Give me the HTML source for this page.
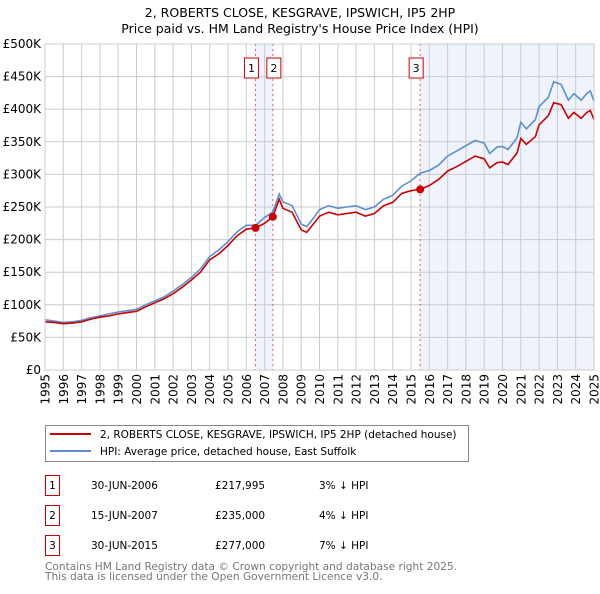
<!DOCTYPE html>
<html><head><meta charset="utf-8"><style>
body{margin:0;background:#fff;font-family:"DejaVu Sans","Liberation Sans",sans-serif;}
svg text{font-family:"DejaVu Sans","Liberation Sans",sans-serif;}
</style></head><body>
<svg id="c" width="600" height="590" xmlns="http://www.w3.org/2000/svg">
<text x="300" y="17" text-anchor="middle" font-size="12.5">2, ROBERTS CLOSE, KESGRAVE, IPSWICH, IP5 2HP</text>
<text x="300" y="33" text-anchor="middle" font-size="12.5">Price paid vs. HM Land Registry's House Price Index (HPI)</text>
<g id="grid"></g><g id="series"></g><g id="axes"></g>
<g>
<rect x="45.5" y="425.5" width="423" height="36" fill="#fff" stroke="#888"/>
<line x1="50" y1="434" x2="91" y2="434" stroke="#cc0000" stroke-width="2"/>
<text x="100" y="438" font-size="10.5">2, ROBERTS CLOSE, KESGRAVE, IPSWICH, IP5 2HP (detached house)</text>
<line x1="50" y1="451" x2="91" y2="451" stroke="#5b8fd0" stroke-width="2"/>
<text x="100" y="455" font-size="10.5">HPI: Average price, detached house, East Suffolk</text>
</g>
<g font-size="10.5">
<rect x="45.5" y="475.5" width="14" height="20" fill="none" stroke="#cc0000"/><text x="52.5" y="489" text-anchor="middle">1</text>
<text x="91" y="489">30-JUN-2006</text><text x="215" y="489">£217,995</text><text x="319" y="489">3% ↓ HPI</text>
<rect x="45.5" y="505.5" width="14" height="20" fill="none" stroke="#cc0000"/><text x="52.5" y="519" text-anchor="middle">2</text>
<text x="91" y="519">15-JUN-2007</text><text x="215" y="519">£235,000</text><text x="319" y="519">4% ↓ HPI</text>
<rect x="45.5" y="535.5" width="14" height="20" fill="none" stroke="#cc0000"/><text x="52.5" y="549" text-anchor="middle">3</text>
<text x="91" y="549">30-JUN-2015</text><text x="215" y="549">£277,000</text><text x="319" y="549">7% ↓ HPI</text>
</g>
<text x="45" y="570" font-size="10.6" fill="#777">Contains HM Land Registry data © Crown copyright and database right 2025.</text>
<text x="45" y="580" font-size="10.6" fill="#777">This data is licensed under the Open Government Licence v3.0.</text>
</svg>
<script>
const hpiYears=[1995,1995.5,1996,1996.5,1997,1997.5,1998,1998.5,1999,1999.5,2000,2000.5,2001,2001.5,2002,2002.5,2003,2003.5,2004,2004.5,2005,2005.5,2006,2006.5,2007,2007.45,2007.8,2008,2008.5,2009,2009.3,2009.7,2010,2010.5,2011,2011.5,2012,2012.5,2013,2013.5,2014,2014.5,2015,2015.5,2016,2016.5,2017,2017.5,2018,2018.5,2019,2019.3,2019.7,2020,2020.3,2020.8,2021,2021.3,2021.8,2022,2022.5,2022.8,2023.2,2023.6,2023.9,2024.3,2024.6,2024.8,2025];
const hpiValues=[77,75,73,74,76,80,83,86,89,91,93,100,106,112,121,131,142,155,174,184,197,212,222,222,234,242,270,258,252,224,220,234,246,252,248,250,252,246,250,262,268,282,290,302,306,314,328,336,344,352,348,332,342,343,338,356,380,370,384,404,418,442,438,414,424,414,424,428,412];
const propYears=hpiYears;
const propValues=[74,73,71,72,74,78,81,83,86,88,90,97,103,109,117,127,138,150,169,178,191,206,216,218,225,235,262,248,242,215,211,225,236,242,238,240,242,236,240,252,257,271,275,277,283,292,305,312,320,328,324,310,318,319,315,333,355,346,358,376,390,410,407,386,395,386,395,398,384];
const saleYears=[2006.5,2007.45,2015.5];
const saleValues=[217995,235000,277000];
const saleLabels=["1","2","3"];
const yTicks=[0,50000,100000,150000,200000,250000,300000,350000,400000,450000,500000];
const yTickLabels=["£0","£50K","£100K","£150K","£200K","£250K","£300K","£350K","£400K","£450K","£500K"];
const xTicks=[1995,1996,1997,1998,1999,2000,2001,2002,2003,2004,2005,2006,2007,2008,2009,2010,2011,2012,2013,2014,2015,2016,2017,2018,2019,2020,2021,2022,2023,2024,2025];

const NS="http://www.w3.org/2000/svg";
const X0=45,X1=594,Y0=370,Y1=44;
const xs=y=>X0+(y-1995)/30*(X1-X0);
const ys=v=>Y0-v/500000*(Y0-Y1);
function mk(tag,attrs,parent){const e=document.createElementNS(NS,tag);for(const k in attrs)e.setAttribute(k,attrs[k]);parent.appendChild(e);return e;}
const grid=document.getElementById('grid'),ser=document.getElementById('series'),ax=document.getElementById('axes');
let r1=mk('rect',{x:xs(saleYears[0]),y:Y1,width:xs(saleYears[1])-xs(saleYears[0]),height:Y0-Y1,fill:'#eef3fc'},grid);


let r2=mk('rect',{x:xs(saleYears[2]),y:Y1,width:X1-xs(saleYears[2]),height:Y0-Y1,fill:'#eef3fc'},grid);


yTicks.forEach((t,i)=>{
 let l=mk('line',{x1:X0,x2:X1,y1:ys(t),y2:ys(t),stroke:'#cccccc'},grid);
 
 
 let tx=mk('text',{x:X0-4,y:ys(t)+4,'text-anchor':'end','font-size':'12'},ax);
 tx.textContent=yTickLabels[i];
 
 
});
xTicks.forEach(t=>{
 let l=mk('line',{x1:xs(t),x2:xs(t),y1:Y1,y2:Y0,stroke:'#cccccc'},grid);
 
 
 let x=xs(t)+4.5;
 let tx=mk('text',{x:x,y:374,'text-anchor':'end','font-size':'12',transform:'rotate(-90 '+x+' 374)'},ax);
 tx.textContent=String(t);
 
 
});
saleYears.forEach((s,i)=>{
 let l=mk('line',{x1:xs(s),x2:xs(s),y1:Y1,y2:Y0,stroke:'#e06060','stroke-dasharray':'2,3'},grid);
 
 
 let bx=xs(s)-(i==0?4:(i==1?-1:4));
 let b=mk('rect',{x:bx-7,y:58,width:14,height:20,fill:'#fff',stroke:'#cc0000'},ax);
 
 
 let tx=mk('text',{x:bx,y:72,'text-anchor':'middle','font-size':'11'},ax);
 tx.textContent=saleLabels[i];
 
 
});
function path(yrs,vals,color,name){
 let d=yrs.map((y,i)=>(i?'L':'M')+xs(y).toFixed(1)+','+ys(vals[i]*1000).toFixed(1)).join('');
 let p=mk('path',{d:d,fill:'none',stroke:color,'stroke-width':'1.6'},ser);
 
 
}
path(hpiYears,hpiValues,'#5b8fd0','hpi-line');
path(propYears,propValues,'#cc0000','property-line');
saleYears.forEach((s,i)=>{
 let c=mk('circle',{cx:xs(s),cy:ys(saleValues[i]),r:4,fill:'#cc0000'},ser);
 
 
});
let fr=mk('rect',{x:X0,y:Y1,width:X1-X0,height:Y0-Y1,fill:'none',stroke:'#cccccc'},ax);


</script>
</body></html>
